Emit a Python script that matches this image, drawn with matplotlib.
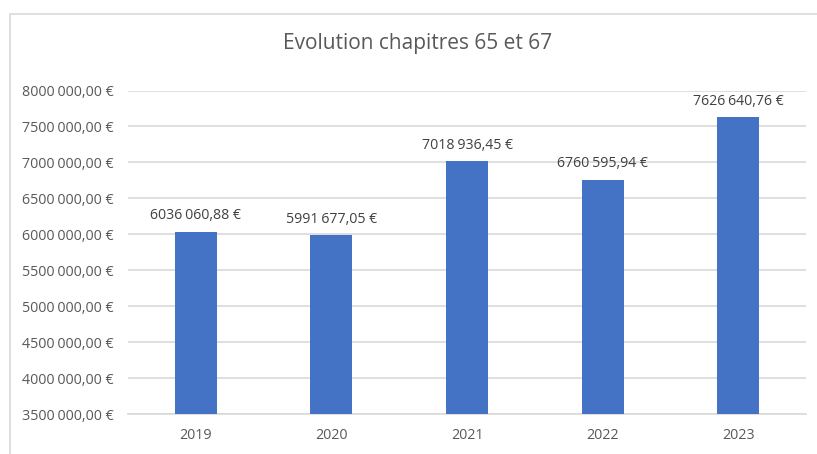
import matplotlib.pyplot as plt
from matplotlib.patches import Rectangle
from matplotlib.ticker import FuncFormatter

plt.rcParams['font.family'] = ['Open Sans', 'DejaVu Sans']

years = ['2019', '2020', '2021', '2022', '2023']
montants = [6036060.88, 5991677.05, 7018936.45, 6760595.94, 7626640.76]
y_ticks = [3500000, 4000000, 4500000, 5000000, 5500000,
           6000000, 6500000, 7000000, 7500000, 8000000]


def euros(v, pos=None):
    cents = int(round(v * 100))
    ent, dec = divmod(cents, 100)
    return f"{ent // 1000}\u202f{ent % 1000:03d},{dec:02d}\u00a0€"


fig = plt.figure(figsize=(8.17, 4.54), dpi=100)
# cadre du graphique
fig.patches.append(Rectangle((10 / 817, -0.5), 1.5, 1.5 - 14 / 454,
                             transform=fig.transFigure, fill=False,
                             edgecolor='#d9d9d9', linewidth=1.2))

ax = fig.add_axes([128 / 817, 1 - 414 / 454, (806 - 128) / 817, (414 - 90.5) / 454])
x = range(len(years))
bars = ax.bar(x, montants, width=0.31, color='#4472c4', zorder=3)

ax.set_ylim(3500000, 8000000)
ax.set_xlim(-0.5, len(years) - 0.5)
ax.set_yticks(y_ticks)
ax.yaxis.set_major_formatter(FuncFormatter(euros))
ax.set_xticks(list(x))
ax.set_xticklabels(years)
ax.grid(axis='y', color='#d9d9d9', linewidth=1.2, zorder=0)
for s in ['top', 'right', 'left']:
    ax.spines[s].set_visible(False)
ax.spines['bottom'].set_color('#d9d9d9')
ax.spines['bottom'].set_linewidth(1.2)
ax.tick_params(axis='both', length=0, labelsize=10.3, colors='#595959')
ax.tick_params(axis='y', pad=10)
ax.tick_params(axis='x', pad=10)

for b, v in zip(bars, montants):
    ax.annotate(euros(v), (b.get_x() + b.get_width() / 2, v),
                xytext=(0, 6), textcoords='offset points',
                ha='center', va='bottom', fontsize=10.2, color='#404040')

fig.text(418 / 817, 1 - 44 / 454, 'Evolution chapitres 65 et 67',
         ha='center', va='center', fontsize=15, color='#595959')

fig.savefig('out.png', dpi=100)
